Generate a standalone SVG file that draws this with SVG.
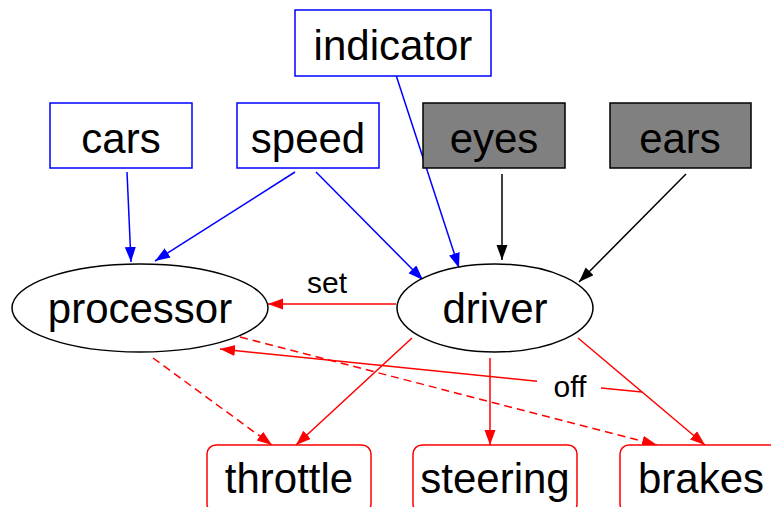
<svg xmlns="http://www.w3.org/2000/svg" width="771" height="507" viewBox="0 0 771 507">
<style>
text{font-family:"Liberation Sans",Arial,sans-serif;fill:#000;text-anchor:middle}
.n{font-size:42px}
.l{font-size:30px}
.blue{fill:#fff;stroke:#0000ff;stroke-width:1.5}
.gray{fill:#808080;stroke:#000;stroke-width:1.5}
.ell{fill:#fff;stroke:#000;stroke-width:1.5}
.red{fill:#fff;stroke:#ff0000;stroke-width:1.5}
.eb{stroke:#0000ff;stroke-width:1.5;fill:none}
.ek{stroke:#000;stroke-width:1.5;fill:none}
.er{stroke:#ff0000;stroke-width:1.5;fill:none}
.d{stroke-dasharray:8,5}
</style>
<defs>
<marker id="ab" markerUnits="userSpaceOnUse" markerWidth="16" markerHeight="12" refX="15" refY="5.5" orient="auto"><path d="M0,0 L15,5.5 L0,11 z" fill="#0000ff"/></marker>
<marker id="ak" markerUnits="userSpaceOnUse" markerWidth="16" markerHeight="12" refX="15" refY="5.5" orient="auto"><path d="M0,0 L15,5.5 L0,11 z" fill="#000"/></marker>
<marker id="ar" markerUnits="userSpaceOnUse" markerWidth="16" markerHeight="12" refX="15" refY="5.5" orient="auto"><path d="M0,0 L15,5.5 L0,11 z" fill="#ff0000"/></marker>
</defs>
<g id="connectors">
<line class="eb" x1="127" y1="172" x2="131" y2="262" marker-end="url(#ab)"/>
<line class="eb" x1="295" y1="172" x2="155" y2="261" marker-end="url(#ab)"/>
<line class="eb" x1="316" y1="172" x2="423" y2="280" marker-end="url(#ab)"/>
<line class="eb" x1="396" y1="75" x2="459" y2="268" marker-end="url(#ab)"/>
<line class="ek" x1="502" y1="174" x2="502" y2="260" marker-end="url(#ak)"/>
<line class="ek" x1="686" y1="174" x2="579" y2="282" marker-end="url(#ak)"/>
<line class="er" x1="396" y1="304" x2="268" y2="304" marker-end="url(#ar)"/>
<text class="l" x="327" y="293">set</text>
<line class="er" x1="412" y1="338" x2="296" y2="445" marker-end="url(#ar)"/>
<line class="er" x1="490" y1="358" x2="490" y2="445" marker-end="url(#ar)"/>
<line class="er" x1="578" y1="338" x2="705" y2="445" marker-end="url(#ar)"/>
<line class="er d" x1="153" y1="358" x2="272" y2="445" marker-end="url(#ar)"/>
<line class="er d" x1="240" y1="337" x2="657" y2="445" marker-end="url(#ar)"/>
<line class="er" x1="642" y1="392" x2="601" y2="388"/>
<line class="er" x1="537" y1="381.3" x2="220" y2="349" marker-end="url(#ar)"/>
<text class="l" x="570" y="397">off</text>
</g>
<g id="indicator"><rect class="blue" x="295" y="10" width="196" height="66"/><text class="n" x="393" y="60">indicator</text></g>
<g id="cars"><rect class="blue" x="50" y="103" width="142" height="65"/><text class="n" x="121" y="153">cars</text></g>
<g id="speed"><rect class="blue" x="237" y="103" width="142" height="65"/><text class="n" x="308" y="153">speed</text></g>
<g id="eyes"><rect class="gray" x="423" y="103" width="142" height="65"/><text class="n" x="494" y="153">eyes</text></g>
<g id="ears"><rect class="gray" x="610" y="103" width="141" height="65"/><text class="n" x="680" y="153">ears</text></g>
<g id="processor"><ellipse class="ell" cx="140" cy="308" rx="128" ry="44"/><text class="n" x="140" y="323">processor</text></g>
<g id="driver"><ellipse class="ell" cx="495" cy="308" rx="98" ry="44"/><text class="n" x="495" y="323">driver</text></g>
<g id="throttle"><rect class="red" x="207" y="445" width="164" height="68" rx="9"/><text class="n" x="289" y="493">throttle</text></g>
<g id="steering"><rect class="red" x="413" y="445" width="164" height="68" rx="9"/><text class="n" x="495" y="493">steering</text></g>
<g id="brakes"><rect class="red" x="620" y="445" width="164" height="68" rx="9"/><text class="n" x="701" y="493">brakes</text></g>
</svg>
